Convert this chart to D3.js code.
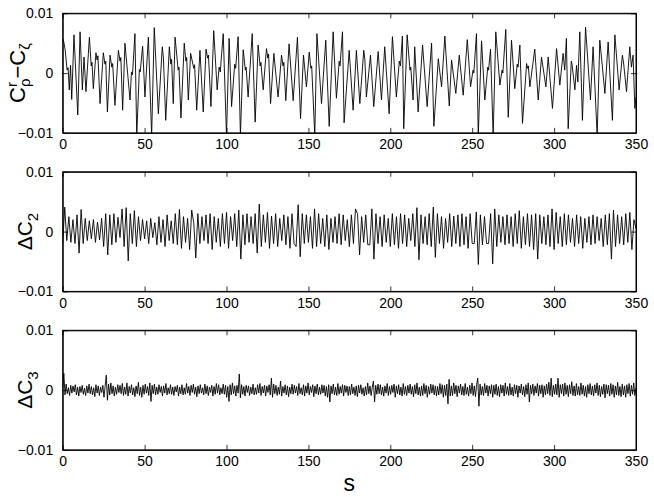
<!DOCTYPE html>
<html>
<head>
<meta charset="utf-8">
<script src="https://cdn.jsdelivr.net/npm/d3@7"></script>
<style>
  html, body { margin: 0; padding: 0; background: #fff; }
  svg { display: block; }
  text { font-family: "Liberation Sans", Arial, Helvetica, sans-serif; fill: #000; }
</style>
</head>
<body>
<svg id="chart" width="654" height="497"></svg>
<script>
// ---------------- DATA ----------------
const xTicks = [0, 50, 100, 150, 200, 250, 300, 350];
const yTicks = [-0.01, 0, 0.01];
const xDomain = [0, 350];
const yDomain = [-0.01, 0.01];

// Panel 1: C^r_rho - C_zeta, turning points (s, value in 1e-3)
const p1S = [0,0.4,1.5,2.7,3.3,4.0,4.8,5.5,6.9,9.2,10.6,12.0,13.0,14.2,16.3,17.4,17.9,18.7,20.3,21.0,21.5,22.8,24.8,25.8,26.3,27.3,28.9,30.0,30.5,31.9,34.0,35.0,35.5,36.6,38.0,41.1,42.0,42.6,44.1,45.2,46.8,47.3,48.8,50.2,52.3,54.3,55.9,58.4,60.8,61.5,62.9,65.1,66.0,66.5,67.5,68.6,70.5,71.0,72.2,74.2,75.2,75.7,76.7,78.1,80.0,80.5,81.8,83.8,85.8,87.5,88.5,89.0,90.5,92.2,94.3,95.5,96.2,98.0,100.0,101.6,103.1,105.0,105.6,107.1,108.5,110.2,111.5,112.0,113.2,115.7,117.5,119.3,120.5,121.0,122.4,124.4,125.2,125.7,126.9,128.9,131.5,133.6,134.5,135.0,136.2,138.2,140.7,143.3,145.2,147.0,148.8,150.5,151.5,152.0,153.9,155.2,158.0,160.6,162.7,165.1,167.1,168.8,169.3,170.8,171.8,174.9,177.3,179.3,181.4,183.8,184.5,185.4,187.9,189.9,192.6,194.6,196.6,199.3,201.3,203.7,205.5,206.2,207.4,208.2,210.3,212.0,212.5,213.9,214.9,217.0,219.7,222.5,225.2,226.6,229.3,231.3,233.3,236.0,237.4,240.0,242.1,244.5,247.0,249.0,250.5,251.0,252.6,253.7,255.7,257.7,259.5,260.0,261.2,262.8,264.4,266.9,268.2,268.7,270.5,272.0,274.0,276.0,277.5,278.0,279.1,280.7,283.2,283.8,284.3,285.2,288.2,290.3,292.3,295.0,296.4,299.0,301.5,303.5,305.5,306.5,307.5,308.6,310.5,311.0,312.7,313.7,314.5,315.7,317.3,319.2,322.2,323.8,326.3,327.9,329.5,331.0,333.0,335.6,337.1,339.7,341.7,342.5,344.2,346.2,347.2,348.2,349.3,350.0];
const p1V = [5.2,5.6,3.9,0.5,0.9,-2.8,1.3,-4.4,6.4,-7.0,6.9,-2.8,2.7,-3.1,6.0,1.2,1.8,-2.6,3.4,2.2,2.9,-5.1,3.4,1.5,2.0,-6.5,3.0,1.0,1.6,-5.4,3.8,2.0,2.6,-6.2,5.0,-4.5,0.2,-0.3,6.6,-10.5,0.6,0.2,4.5,-4.0,6.0,-10.5,7.6,-6.8,4.4,2.5,-7.9,4.4,1.5,2.3,-5.1,6.0,0.5,1.0,-7.5,5.0,2.0,2.6,-4.5,3.3,0.8,1.4,-6.2,3.8,-6.5,4.0,2.5,3.0,-5.6,7.1,-2.8,1.0,0.2,6.6,-10.5,5.8,-5.6,1.5,0.8,6.1,-10.5,3.9,0.5,1.0,-4.0,6.6,-8.2,4.7,1.2,1.8,-2.8,4.1,2.5,3.2,-5.1,3.3,-4.0,3.0,1.2,1.8,-4.6,4.9,-4.6,6.0,-7.6,3.0,-2.3,3.5,0.8,1.2,-10.5,6.6,-5.1,5.5,-8.9,6.9,-4.2,2.0,1.2,6.9,-8.3,3.8,-6.2,3.8,-5.1,3.8,2.2,-4.0,3.0,-5.6,3.6,-4.5,4.4,-6.8,6.1,-4.0,2.0,1.2,6.2,-9.3,6.4,0.5,1.0,-4.5,4.4,-6.5,4.7,-5.6,5.0,-8.9,2.4,-2.3,6.2,-5.5,2.2,-3.4,3.0,-3.7,5.6,-2.3,0.5,0.0,6.6,-10.5,5.4,-4.5,1.0,0.5,4.0,-10.5,6.9,-2.0,0.5,0.0,7.3,-7.4,5.5,-2.6,1.5,1.0,4.7,-8.4,1.6,0.8,1.2,-2.3,4.0,-4.5,2.7,-2.3,2.7,-5.9,4.1,-2.0,3.3,0.5,5.8,-9.3,2.0,1.4,-2.8,1.3,-1.5,6.9,-7.9,7.7,-4.5,4.4,-10.5,5.5,1.0,-3.4,5.2,-7.9,6.4,-2.8,3.0,1.5,-3.1,4.4,1.0,3.0,-5.9,-4.0];

// Panel 2: Delta C_2, sampled every p2Step in s (value in 1e-4)
const p2Step = 1.25;
const p2V = [-20,41,-15,25,-18,20,-20,28,-36,37,-20,22,-15,18,-12,20,-18,16,-14,22,
-25,30,-39,28,-22,30,-18,24,-10,38,-25,40,-49,30,-20,35,-25,25,-15,20,
-12,18,-20,22,-10,15,-22,25,-18,20,-25,28,-15,18,-20,30,-22,37,-28,25,
-18,22,-30,36,15,-44,30,-20,25,-15,28,-20,30,-30,25,-18,22,-25,30,-20,
32,-28,25,-15,30,-25,36,-46,28,-22,30,-18,25,-20,30,-36,46,-25,28,-18,
32,-28,26,-20,30,-25,22,-15,28,-22,25,-28,30,-20,-25,45,-42,30,-20,28,
-18,25,-28,38,-25,30,-20,22,-25,28,-30,22,-18,25,-20,30,-22,28,-15,20,
-25,28,-20,38,30,-39,25,-18,28,-22,-22,38,-46,30,-20,25,-25,28,-18,22,
-25,30,-22,25,-28,30,-20,28,-25,22,-15,30,-25,40,-47,28,-20,25,-22,30,
-25,41,-43,30,-20,25,-28,22,-18,30,-25,26,-20,28,-25,30,-22,25,-28,30,
-20,-20,33,-55,28,-22,25,-20,-20,30,-54,38,-25,28,-18,25,-22,28,-20,25,
-25,30,-20,35,-28,25,-22,30,-25,28,-30,30,-46,28,-20,25,-22,28,-25,38,
-30,32,-20,25,-25,30,-22,28,-18,22,-25,28,-20,25,-28,22,-18,25,-22,28,
-20,25,-15,22,-25,28,-22,30,-46,36,-25,28,-20,25,-22,30,-18,32,-30,20,5];

// Panel 3: Delta C_3, sampled every p3Step in s (value in 1e-4)
const p3Step = 0.7;
const p3V = [5,28,-8,10,-6,4,-9,8,-5,7,-3,9,-8,5,-10,6,-4,8,-7,3,-9,7,-5,10,-6,
6,-8,4,-11,9,-5,7,-9,5,-4,8,-12,6,25,-17,10,-8,12,-6,7,-10,5,-7,9,-4,
8,-6,11,-9,5,-7,12,-10,6,-5,9,-8,4,-11,7,-6,13,-9,5,-12,8,-7,10,-5,6,
-9,12,-19,8,-6,10,-8,5,-7,9,-4,6,-10,7,-5,11,-8,4,-6,9,-7,5,-9,6,-3,
8,-10,5,-6,9,-8,4,-7,11,-5,6,-9,8,-4,10,-7,5,-11,7,-6,9,-5,4,-8,10,
-6,7,-9,5,-4,8,-10,6,-7,11,-5,9,-8,4,-6,10,-7,8,-12,6,-19,9,-8,12,-6,
7,-10,8,-5,27,-13,9,-7,6,-10,8,-4,7,-9,5,-6,10,-8,4,-7,9,-5,11,-9,6,
-5,8,-10,7,-4,9,-8,20,-12,10,-6,8,-9,5,-7,15,-10,6,-5,9,-8,7,-11,5,-6,
10,-7,8,-5,6,-9,11,-6,4,-8,9,-10,7,-5,12,-8,6,-4,9,-11,7,-6,10,-8,5,
-7,9,-5,8,-10,6,-12,9,-20,7,-6,10,-8,5,-9,11,-7,6,-5,9,-10,8,-4,7,-9,
6,-8,10,-6,5,-9,7,-11,8,-5,9,-7,4,-10,6,-8,12,-6,7,-9,5,15,-20,8,-7,
10,-6,9,-8,5,-10,7,-5,11,-9,6,-7,8,-4,10,-12,7,-6,9,-8,5,-10,11,-7,6,
-9,8,-5,10,-7,6,-11,9,-6,12,-8,5,-10,7,-9,11,-6,8,-12,6,-7,10,-5,9,-8,
7,-10,6,-8,11,-6,9,-12,8,-9,10,-23,18,-10,7,-9,12,-6,8,-11,7,-5,10,-8,6,
-9,11,-7,5,-10,8,-6,12,-9,7,-11,9,20,-27,10,-8,6,-9,11,-5,8,-10,7,-6,9,
-12,8,-7,10,-9,6,-11,9,-5,8,-10,12,-7,6,-9,11,-8,5,-10,9,-6,8,-12,7,-5,
10,-8,6,-11,9,-7,12,-20,8,-6,10,-9,7,-5,11,-10,8,-6,9,-12,7,-8,10,-6,13,
-9,20,-11,8,-7,10,-8,20,-12,9,-6,10,-10,12,-7,8,-11,9,-6,14,-9,7,-10,11,-8,
6,-9,12,-7,8,-10,6,-12,9,-6,11,-8,7,-10,9,-5,12,-9,8,-11,6,-7,10,-13,9,
-6,8,-10,11,-7,9,-12,7,-8,13,-9,6,-11,10,-8,7,-12,9,-6,11,-10,8,-7,12,-9,
4];

// ---------------- BUILD SERIES ----------------
const series1 = p1S.map((s, i) => ({ s: s, v: p1V[i] / 1000 }));
const series2 = p2V.map((v, i) => ({ s: i * p2Step, v: v / 10000 }));
const series3 = p3V.map((v, i) => ({ s: i * p3Step, v: v / 10000 }));

// ---------------- LAYOUT ----------------
const svg = d3.select("#chart");
const left = 62.7, right = 636;
const panelTop0 = 13.3, panelPitch = 158.5, panelH = 119.6;

const x = d3.scaleLinear().domain(xDomain).range([left, right]);

const panels = [series1, series2, series3];

const yFmt = d => d === 0 ? "0" : d3.format(".2f")(d);

panels.forEach((data, i) => {
  const top = panelTop0 + i * panelPitch;
  const bottom = top + panelH;
  const y = d3.scaleLinear().domain(yDomain).range([bottom, top]);

  const clipId = "clip" + i;
  svg.append("clipPath").attr("id", clipId)
    .append("rect").attr("x", left).attr("y", top)
    .attr("width", right - left).attr("height", bottom - top);

  const line = d3.line().x(d => x(d.s)).y(d => y(d.v));
  svg.append("path").datum(data)
    .attr("clip-path", `url(#${clipId})`)
    .attr("d", line)
    .attr("fill", "none")
    .attr("stroke", "#000")
    .attr("stroke-width", 0.9)
    .attr("stroke-linejoin", "round");

  const gB = svg.append("g").attr("transform", `translate(0,${bottom})`)
    .call(d3.axisBottom(x).tickValues(xTicks).tickSizeInner(-5).tickSizeOuter(0).tickPadding(6.5).tickFormat(d3.format("d")));
  const gT = svg.append("g").attr("transform", `translate(0,${top})`)
    .call(d3.axisTop(x).tickValues(xTicks).tickSizeInner(-5).tickSizeOuter(0).tickFormat(""));
  const gL = svg.append("g").attr("transform", `translate(${left},0)`)
    .call(d3.axisLeft(y).tickValues(yTicks).tickSizeInner(-5).tickSizeOuter(0).tickPadding(9.5).tickFormat(yFmt));
  const gR = svg.append("g").attr("transform", `translate(${right},0)`)
    .call(d3.axisRight(y).tickValues(yTicks).tickSizeInner(-5).tickSizeOuter(0).tickFormat(""));

  [gB, gT, gL, gR].forEach(g => {
    g.select(".domain").attr("stroke", "#000").attr("stroke-width", 1);
    g.selectAll(".tick line").attr("stroke", "#000").attr("stroke-width", 0.8);
    g.selectAll(".tick text").attr("font-size", 14).attr("font-family", "Liberation Sans, Arial, sans-serif").attr("fill", "#000");
  });

  svg.append("rect").attr("x", left).attr("y", top)
    .attr("width", right - left).attr("height", bottom - top)
    .attr("fill", "none").attr("stroke", "#000").attr("stroke-width", 1);
});

// ---------------- Y LABELS ----------------
function panelMid(i) { return panelTop0 + i * panelPitch + panelH / 2; }

{
  const t = svg.append("text")
    .attr("transform", `translate(24.5,${panelMid(0)}) rotate(-90)`)
    .attr("text-anchor", "middle")
    .attr("font-size", 22);
  t.append("tspan").text("C");
  t.append("tspan").attr("font-size", 15).attr("dy", -8).text("r");
  t.append("tspan").attr("font-size", 15).attr("dx", -5).attr("dy", 13).text("ρ");
  t.append("tspan").attr("dy", -5).text("−C");
  t.append("tspan").attr("font-size", 15).attr("dy", 5).text("ζ");
}
{
  const t = svg.append("text")
    .attr("transform", `translate(32,${panelMid(1)}) rotate(-90)`)
    .attr("text-anchor", "middle")
    .attr("font-size", 21);
  t.append("tspan").text("ΔC");
  t.append("tspan").attr("font-size", 15).attr("dy", 6).text("2");
}
{
  const t = svg.append("text")
    .attr("transform", `translate(32,${panelMid(2)}) rotate(-90)`)
    .attr("text-anchor", "middle")
    .attr("font-size", 21);
  t.append("tspan").text("ΔC");
  t.append("tspan").attr("font-size", 15).attr("dy", 6).text("3");
}

svg.append("text")
  .attr("x", (left + right) / 2).attr("y", 491)
  .attr("text-anchor", "middle")
  .attr("font-size", 23)
  .text("s");
</script>
</body>
</html>
